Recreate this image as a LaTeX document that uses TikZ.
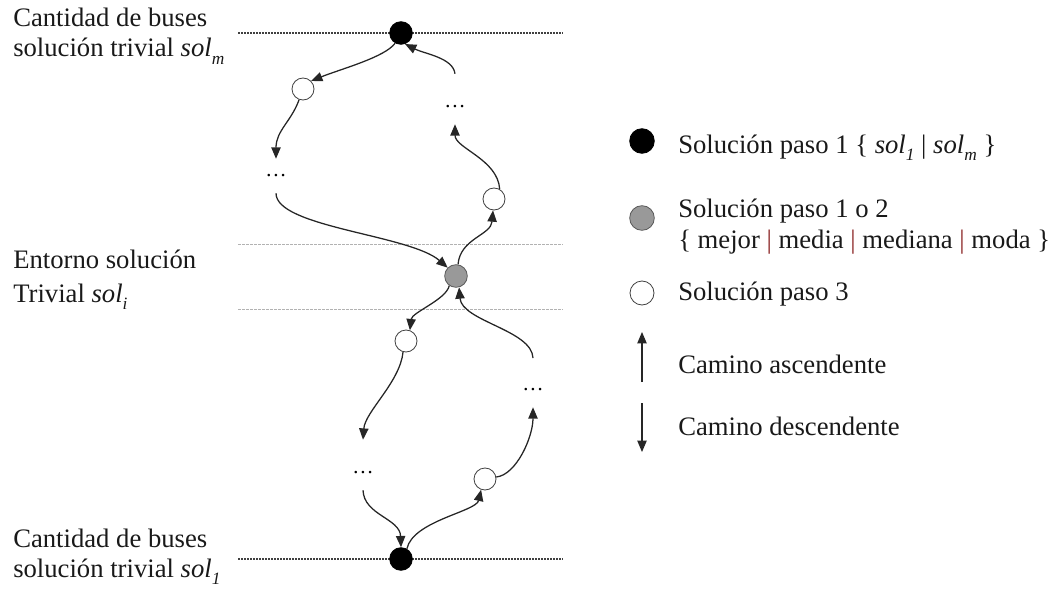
\documentclass[tikz,border=0pt]{standalone}
\usepackage{fontspec}
\setmainfont{Liberation Serif}
\usetikzlibrary{arrows.meta}

% subscript in italics, set lower and smaller
\newcommand{\isub}[1]{\raisebox{-0.6ex}{\fontsize{13}{13}\selectfont\itshape #1}}

\definecolor{solgray}{HTML}{999999}
\definecolor{bardark}{HTML}{8E2A2A}

\tikzset{
  px/.style={x=0.75pt,y=-0.75pt},
  solblack/.style={circle,draw=black,fill=black,line width=0.6pt,minimum size=17pt,inner sep=0pt},
  solmid/.style={circle,draw=black!65,fill=solgray,line width=0.6pt,minimum size=17pt,inner sep=0pt},
  solwhite/.style={circle,draw=black!75,fill=white,line width=0.6pt,minimum size=16.5pt,inner sep=0pt},
  gap/.style={inner sep=0pt,minimum height=25.5pt,minimum width=16pt,font=\fontsize{16}{16}\selectfont},
  lbl/.style={anchor=base west,inner sep=0pt,font=\fontsize{20}{22}\selectfont,text=black!90},
  path/.style={line width=0.95pt,black!85,-{Triangle[length=8.5pt,width=7pt]}},
  levelline/.style={line width=0.8pt,black!75,dash pattern=on 1.5pt off 0.75pt},
  bandline/.style={line width=0.6pt,black!30,dash pattern=on 2pt off 1pt},
}

\begin{document}
\begin{tikzpicture}[px]
\useasboundingbox (0,0) rectangle (1054,592);

% level lines
\draw[levelline] (238,33) -- (563,33);
\draw[levelline] (238,559) -- (563,559);
\draw[bandline] (238,244) -- (563,244);
\draw[bandline] (238,309) -- (563,309);

% solutions
\node[solblack] (T) at (401,33) {};
\node[solmid]   (G) at (456,276) {};
\node[solblack] (B) at (401,559) {};
\node[solwhite] (W1) at (303,89) {};
\node[solwhite] (W2) at (494,199) {};
\node[solwhite] (W3) at (406,341) {};
\node[solwhite] (W4) at (485,479) {};

% omitted intermediate steps
\node[gap] (D1) at (276,176) {\ldots};
\node[gap] (D2) at (455,107) {\ldots};
\node[gap] (D3) at (363,473) {\ldots};
\node[gap] (D4) at (533,390) {\ldots};

% descending path from sol_m to the central solution
\draw[path] (T.240) .. controls +(-10,14) and +(30,-12) .. (W1.45);
\draw[path] (W1.250) .. controls +(-8,22) and +(0,-28) .. (D1.north);
\draw[path] (D1.south) .. controls +(0,34) and +(-38,-33) .. (G.135);

% ascending path from the central solution to sol_m
\draw[path] (G.80) .. controls +(2,-26) and +(-2,25) .. (W2.265);
\draw[path] (W2.60) .. controls +(-2,-30) and +(0,24) .. (D2.south);
\draw[path] ([yshift=12pt]D2.north) .. controls +(-2,-16) and +(20,10) .. (T.290);

% descending path from the central solution to sol_1
\draw[path] (G.235) .. controls +(-3,14) and +(2,-18) .. (W3.70);
\draw[path] (W3.255) .. controls +(-3,30) and +(2,-28) .. ([yshift=12pt]D3.north);
\draw[path] (D3.south) .. controls +(1,25) and +(-1,-29) .. (B.north);

% ascending path from sol_1 to the central solution
\draw[path] (B.60) .. controls +(6,-28) and +(-5,22) .. (W4.250);
\draw[path] (W4.10) .. controls +(20,-2) and +(0,30) .. (D4.south);
\draw[path] ([yshift=11pt]D4.north) .. controls +(-1,-28) and +(3,34) .. (G.285);

% level labels
\node[lbl] (lm1) at (13,27) {Cantidad de buses};
\node[lbl] (lm2) at (13,57) {solución trivial \textit{sol}\isub{m}};
\node[lbl] (li1) at (13,268) {Entorno solución};
\node[lbl] (li2) at (13,302) {Trivial \textit{sol}\isub{i}};
\node[lbl] (l11) at (13,547) {Cantidad de buses};
\node[lbl] (l12) at (13,577) {solución trivial \textit{sol}\isub{1}};

% legend
\node[solblack,minimum size=18.5pt] (k1) at (642,141) {};
\node[solmid,minimum size=18.5pt]   (k2) at (642,218) {};
\node[solwhite,minimum size=18pt]   (k3) at (642,293) {};
\node[lbl] (t1) at (678,153) {Solución paso 1 \{ \textit{sol}\isub{1} | \textit{sol}\isub{m} \}};
\node[lbl] (t2a) at (678,217) {Solución paso 1 o 2};
\node[lbl] (t2b) at (678,248) {\{ mejor \textcolor{bardark}{|} media \textcolor{bardark}{|} mediana \textcolor{bardark}{|} moda \}};
\node[lbl] (t3) at (678,300) {Solución paso 3};

\coordinate (up0) at (642,382);
\coordinate (up1) at (642,332);
\coordinate (dn0) at (642,403);
\coordinate (dn1) at (642,452);
\draw[path,line width=0.8pt] (up0) -- (up1);
\draw[path,line width=0.8pt] (dn0) -- (dn1);
\node[lbl] (t4) at (678,373) {Camino ascendente};
\node[lbl] (t5) at (678,435) {Camino descendente};
\end{tikzpicture}
\end{document}
